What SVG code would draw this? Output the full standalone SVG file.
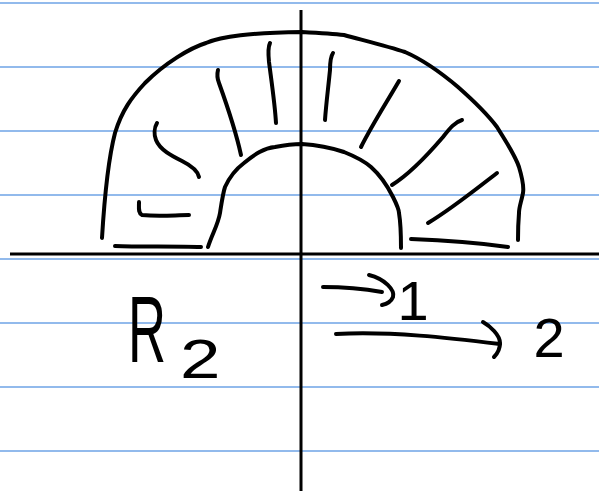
<svg xmlns="http://www.w3.org/2000/svg" width="599" height="491" viewBox="0 0 599 491">
<style>
.rule{stroke:#6ea3e6;stroke-width:1.5}
.ink{fill:none;stroke:#000;stroke-width:4;stroke-linecap:round;stroke-linejoin:round}
.axis{fill:none;stroke:#000;stroke-width:3}
.hand{font-family:"Liberation Sans",Arial,sans-serif;fill:#000}
</style>
<rect width="599" height="491" fill="#fff"/>
<g id="paper">
<line class="rule" x1="0" y1="3" x2="599" y2="3"/>
<line class="rule" x1="0" y1="67" x2="599" y2="67"/>
<line class="rule" x1="0" y1="131" x2="599" y2="131"/>
<line class="rule" x1="0" y1="195" x2="599" y2="195"/>
<line class="rule" x1="0" y1="259" x2="599" y2="259"/>
<line class="rule" x1="0" y1="323" x2="599" y2="323"/>
<line class="rule" x1="0" y1="387" x2="599" y2="387"/>
<line class="rule" x1="0" y1="451" x2="599" y2="451"/>
</g>
<g id="axes">
<line class="axis" x1="301" y1="10" x2="301" y2="491"/>
<line class="axis" x1="10" y1="254" x2="599" y2="254"/>
</g>
<g id="region">
<path class="ink" d="M102,238 C104,205 108,160 115,133 C122,110 132,97 145,83 C165,63 190,48 206,43 C222,36 250,33 302,32 C320,33 335,34 344,35 C370,42 390,47 405,52 C428,62 445,76 458,87 C475,102 488,115 497,127 C508,145 515,155 519,167 C522,177 524,187 523,193 C521,203 519,207 519,213 C518,225 518,233 518,240"/>
<path class="ink" d="M208,247 C212,234 218,225 220,213 C222,200 223,193 225,187 C230,176 236,169 244,163 C255,154 264,148 275,147 C285,145 294,144 302,144 C318,145 332,148 344,152 C354,156 363,160 371,167 C380,175 387,185 393,197 C397,205 399,209 399,213 C401,225 401,237 401,248"/>
<path class="ink" d="M115,246 C140,247 175,246 201,247"/>
<path class="ink" d="M411,239 C440,240 480,243 508,247"/>
<path class="ink" d="M139,202 C139,208 138,213 142,215 C160,217 175,215 189,215"/>
<path class="ink" d="M157,123 C154,128 154,135 156,140 C160,150 172,156 182,161 C192,166 198,172 199,177"/>
<path class="ink" d="M218,70 C217,74 217,78 219,83 C228,108 236,132 241,155"/>
<path class="ink" d="M270,43 C268,47 268,52 269,62 C272,85 275,105 276,123"/>
<path class="ink" d="M333,53 C331,56 330,62 330,70 C328,90 326,105 325,120"/>
<path class="ink" d="M399,81 C385,105 372,125 361,147"/>
<path class="ink" d="M462,120 C455,122 450,128 443,137 C425,158 408,175 392,185"/>
<path class="ink" d="M497,173 C475,190 450,210 428,223"/>
</g>
<g id="arrow1">
<path class="ink" d="M323,287 C345,287 365,289 382,292"/>
<path class="ink" d="M369,275 C385,279 395,290 393,297 C391,302 387,304 382,305"/>
</g>
<g id="arrow2">
<path class="ink" d="M336,334 C390,331 450,338 500,344"/>
<path class="ink" d="M483,322 C490,326 500,335 500,343 C500,350 497,354 494,357"/>
</g>
<g id="labels">
<text class="hand" transform="translate(128,362) scale(0.56,1)" font-size="94">R</text>
<text class="hand" transform="translate(180,378) scale(1.3,1)" font-size="56">2</text>
<text class="hand" x="413" y="320" font-size="56" text-anchor="middle">1</text>
<text class="hand" x="549" y="357" font-size="56" text-anchor="middle">2</text>
</g>
</svg>
